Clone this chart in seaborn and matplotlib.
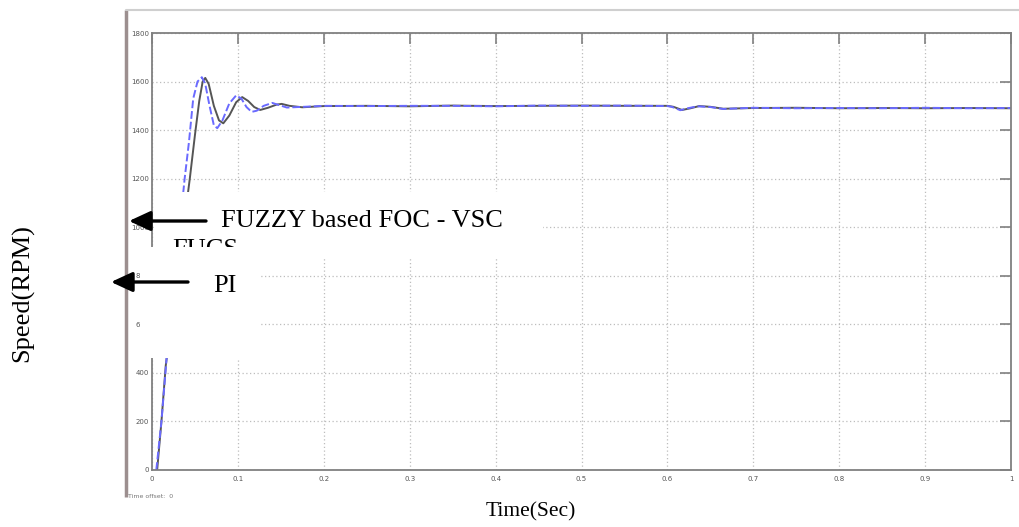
import numpy as np
import pandas as pd
import matplotlib
matplotlib.use("Agg")
import matplotlib.pyplot as plt
from matplotlib.patches import Rectangle
import seaborn as sns

# ---- data ----
t_fuzzy = [0.006, 0.011, 0.016, 0.044, 0.050, 0.055, 0.059, 0.062, 0.066, 0.072, 0.078,
           0.083, 0.090, 0.098, 0.105, 0.112, 0.119, 0.126, 0.135, 0.145, 0.151, 0.160,
           0.175, 0.19, 0.20, 0.25, 0.30, 0.35, 0.40, 0.45, 0.50, 0.55, 0.60, 0.607,
           0.617, 0.627, 0.637, 0.65, 0.665, 0.70, 0.75, 0.80, 0.85, 0.90, 0.95, 1.0]
v_fuzzy = [0, 200, 430, 1200, 1380, 1520, 1600, 1615, 1590, 1500, 1440,
           1428, 1460, 1515, 1536, 1520, 1495, 1483, 1492, 1505, 1508, 1500,
           1494, 1497, 1499, 1500, 1498, 1501, 1499, 1500, 1501, 1500, 1500, 1496,
           1483, 1490, 1499, 1496, 1488, 1491, 1492, 1490, 1491, 1490, 1491, 1490]

t_pi = [0.005, 0.011, 0.017, 0.038, 0.043, 0.048, 0.053, 0.058, 0.062, 0.067, 0.072,
        0.076, 0.082, 0.090, 0.098, 0.104, 0.110, 0.116, 0.122, 0.130, 0.140, 0.148,
        0.157, 0.17, 0.19, 0.20, 0.25, 0.30, 0.35, 0.40, 0.45, 0.50, 0.55, 0.60, 0.605,
        0.615, 0.625, 0.635, 0.65, 0.665, 0.70, 0.75, 0.80, 0.85, 0.90, 0.95, 1.0]
v_pi = [0, 200, 460, 1200, 1350, 1530, 1600, 1618, 1590, 1500, 1420,
        1408, 1440, 1510, 1543, 1530, 1495, 1475, 1480, 1500, 1512, 1503,
        1493, 1495, 1498, 1500, 1499, 1500, 1500, 1498, 1501, 1500, 1501, 1499, 1496,
        1482, 1491, 1498, 1495, 1487, 1492, 1490, 1491, 1490, 1492, 1490, 1491]

x_ticks = [0, 0.1, 0.2, 0.3, 0.4, 0.5, 0.6, 0.7, 0.8, 0.9, 1.0]
x_tick_labels = ["0", "0.1", "0.2", "0.3", "0.4", "0.5", "0.6", "0.7", "0.8", "0.9", "1"]
y_ticks = [0, 200, 400, 600, 800, 1000, 1200, 1400, 1600, 1800]

df = pd.concat([
    pd.DataFrame({"Time": t_fuzzy, "Speed": v_fuzzy, "Controller": "FUZZY"}),
    pd.DataFrame({"Time": t_pi, "Speed": v_pi, "Controller": "PI"}),
], ignore_index=True)

sns.set_theme(style="white")
W, H = 1019, 527
fig = plt.figure(figsize=(W / 100, H / 100), dpi=100)
fig.patch.set_facecolor("white")

ax = fig.add_axes([152 / W, 1 - 470 / H, (1011 - 152) / W, (470 - 33) / H])
sns.lineplot(data=df, x="Time", y="Speed", hue="Controller", style="Controller",
             palette={"FUZZY": "#555555", "PI": "#6a6aff"},
             dashes={"FUZZY": "", "PI": (4, 1.5)}, linewidth=1.4,
             legend=False, ax=ax, sort=False)
ax.set_xlim(0, 1.0)
ax.set_ylim(0, 1800)
ax.set_xticks(x_ticks)
ax.set_xticklabels(x_tick_labels)
ax.set_yticks(y_ticks)
ax.set_xlabel("")
ax.set_ylabel("")
ax.grid(True, linestyle=(0, (1, 2)), color="#bdbdbd", linewidth=0.9)
ax.tick_params(axis="both", direction="in", length=8, width=1.2, color="#808080",
               labelsize=5, labelcolor="#555555", top=True, right=True)
ax.tick_params(axis="y", pad=2)
ax.tick_params(axis="x", pad=4)
for s in ax.spines.values():
    s.set_color("#808080")
    s.set_linewidth(1.3)
    s.set_visible(True)
ax.set_facecolor("white")

# ---- overlay in pixel coordinates ----
ov = fig.add_axes([0, 0, 1, 1], zorder=10)
ov.set_xlim(0, W)
ov.set_ylim(H, 0)
ov.axis("off")
ov.patch.set_alpha(0)

serif = ["Liberation Serif", "DejaVu Serif"]

ov.plot([126, 126], [10, 497], color="#9c8f8f", lw=2.5, solid_capstyle="butt")
ov.plot([126, W], [10, 10], color="#cfcfcf", lw=1.5)
ov.text(128, 497, "Time offset:  0", fontsize=4.5, color="#777777", va="center", ha="left")

ov.add_patch(Rectangle((155, 192), 388, 66, facecolor="white", edgecolor="none", zorder=1))
ov.text(221, 227, "FUZZY based FOC - VSC", fontsize=19, family=serif, color="black",
        va="baseline", ha="left", zorder=2)
ov.text(172, 256, "FUCS", fontsize=19, family=serif, color="black",
        va="baseline", ha="left", zorder=2)
ov.add_patch(Rectangle((140, 247), 119, 111, facecolor="white", edgecolor="none", zorder=3))

arrow_kw = dict(arrowstyle="-|>,head_length=0.65,head_width=0.3", color="black",
                lw=2.4, mutation_scale=20, shrinkA=0, shrinkB=0)
ov.annotate("", xy=(129, 221), xytext=(206, 221), arrowprops=arrow_kw, zorder=4)
ov.annotate("", xy=(111, 282), xytext=(188, 282), arrowprops=arrow_kw, zorder=4)
ov.text(213, 292, "PI", fontsize=19, family=serif, color="black",
        va="baseline", ha="left", zorder=4)

ov.text(531, 516, "Time(Sec)", fontsize=15.5, family=serif, color="black",
        va="baseline", ha="center")
ov.text(23, 293, "Speed(RPM)", fontsize=19, family=serif, color="black",
        va="center", ha="center", rotation=90)

fig.savefig("out.png", dpi=100, facecolor="white")
